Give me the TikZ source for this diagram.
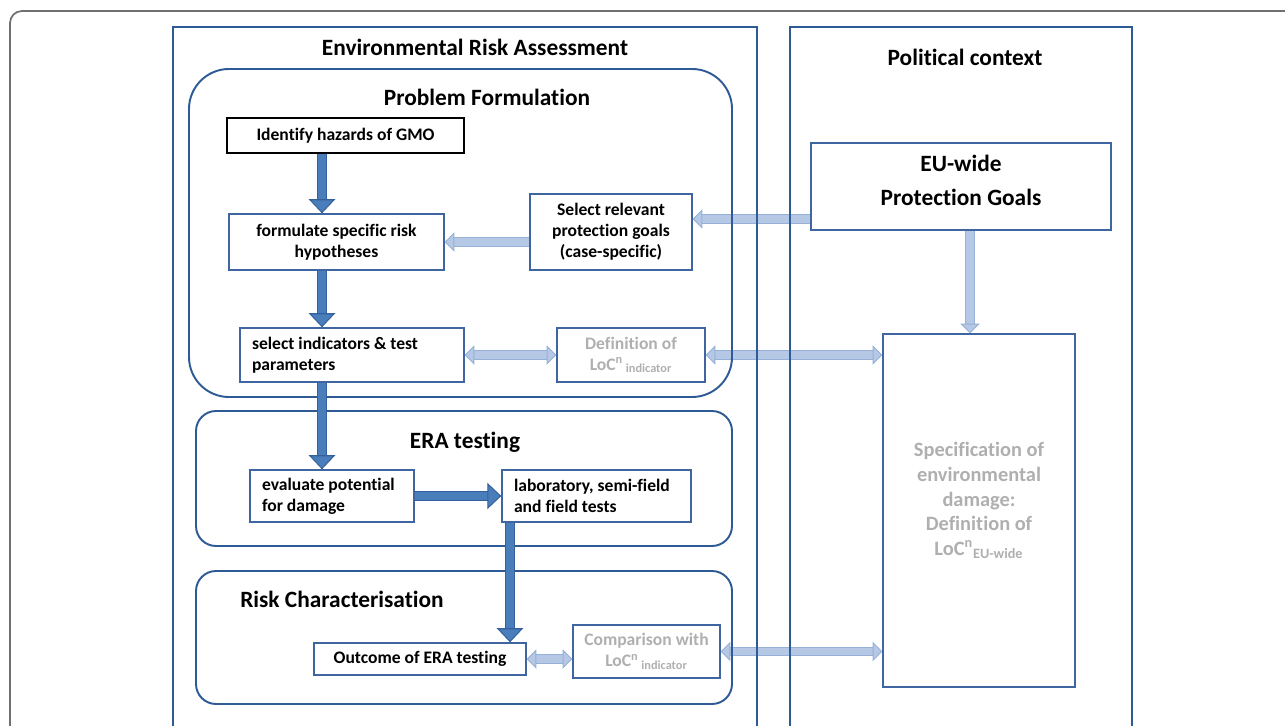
\documentclass[tikz,border=0pt]{standalone}
\usepackage{fontspec}
\setmainfont{Carlito}[Ligatures=NoCommon]
\usetikzlibrary{positioning, arrows.meta, backgrounds}
\definecolor{eraframe}{HTML}{2E5B96}
\definecolor{erabox}{HTML}{3F66A0}
\definecolor{eradark}{HTML}{4A7EBB}
\definecolor{eradarkedge}{HTML}{35609E}
\definecolor{eralight}{HTML}{B5C8E5}
\definecolor{eralightedge}{HTML}{97B0D6}
\definecolor{eragray}{HTML}{AFAFAF}
\definecolor{eraouter}{HTML}{707070}

\tikzset{
  darktip/.tip={Triangle[length=8pt, width=15pt, fill=eradark, color=eradarkedge, line width=0.6pt]},
  lighttip/.tip={Triangle[length=5.5pt, width=11pt, fill=eralight, color=eralightedge, line width=0.5pt]},
  stepbox/.style={draw=erabox, line width=0.8pt, inner sep=0pt, align=center,
    font=\bfseries\fontsize{10}{12}\selectfont},
  leftbox/.style={stepbox, align=flush left, inner xsep=0.24cm},
  greybox/.style={stepbox, text=eragray},
  greytext/.style={text=eragray, align=center, font=\bfseries\fontsize{11.6}{14}\selectfont},
  paneltitle/.style={font=\bfseries\fontsize{13.3}{15}\selectfont},
  panel/.style={draw=eraframe, line width=1.1pt},
  darkarrow/.style={-darktip, double=eradark, double distance=5pt, draw=eradarkedge, line width=0.6pt},
  lightarrow/.style={double=eralight, double distance=4.2pt, draw=eralightedge, line width=0.5pt}
}

\begin{document}
\begin{tikzpicture}[x=0.02cm, y=-0.02cm]
      \useasboundingbox (0,0) rectangle (1285,726);
      % outer frame and the two panels
      \draw[eraouter, line width=1pt, rounded corners=0.24cm] (10,760) -- (10,11) -- (1320,11);
      \draw[panel] (173,760) -- (173,27) -- (757,27) -- (757,760);
      \draw[panel] (790,760) -- (790,27) -- (1132,27) -- (1132,760);
      \node[paneltitle] (eratitle) at (475,47) {Environmental Risk Assessment};
      \node[paneltitle] (poltitle) at (965,57) {Political context};
      % phases of the assessment
      \draw[panel, rounded corners=0.8cm] (189,69) rectangle (732,397);
      \draw[panel, rounded corners=0.4cm] (196,411) rectangle (732,546);
      \draw[panel, rounded corners=0.4cm] (196,571) rectangle (732,704);
      \node[paneltitle] (pftitle) at (487,97) {Problem Formulation};
      \node[paneltitle] (testtitle) at (465,442) {ERA testing};
      \node[paneltitle] (rctitle) at (342,599) {Risk Characterisation};
      % steps
      \node[stepbox, draw=black, minimum width=4.74cm, minimum height=0.70cm] (hazards) at (345.5,135.5) {Identify hazards of GMO};
      \node[stepbox, minimum width=4.30cm, minimum height=1.12cm] (hypo) at (336.5,242) {formulate specific risk\\hypotheses};
      \node[stepbox, minimum width=3.24cm, minimum height=1.52cm] (goalsel) at (611,232) {Select relevant\\protection goals\\(case-specific)};
      \node[leftbox, text width=4.00cm, minimum height=1.08cm] (indic) at (352,355) {select indicators \& test\\parameters};
      \node[greybox, minimum width=2.96cm, minimum height=1.08cm] (locind) at (631,355) {Definition of\\LoC\textsuperscript{n}\textsubscript{ indicator}};
      \node[leftbox, text width=2.80cm, minimum height=1.04cm] (evalpot) at (332,496) {evaluate potential\\for damage};
      \node[leftbox, text width=3.30cm, minimum height=1.04cm] (labtest) at (596.5,496) {laboratory, semi-field\\and field tests};
      \node[stepbox, minimum width=4.24cm, minimum height=0.64cm] (outcome) at (420,659) {Outcome of ERA testing};
      \node[greybox, minimum width=2.94cm, minimum height=1.06cm] (compare) at (646.5,651.5) {Comparison with\\LoC\textsuperscript{n}\textsubscript{ indicator}};
      \node[stepbox, minimum width=6.0cm, minimum height=1.74cm,
            label={[yshift=0.12cm, align=center, font=\bfseries\fontsize{13.3}{19.5}\selectfont]center:{EU-wide\\Protection Goals}}] (eugoals) at (961,186.5) {};
      \node[stepbox, minimum width=3.84cm, minimum height=7.06cm,
            label={[yshift=0.2cm, greytext]center:{Specification of\\environmental\\damage:\\Definition of\\LoC\textsuperscript{n}\textsubscript{EU-wide}}}] (damage) at (979,510.5) {};
      % helper lines for the arrows
      \coordinate (spine) at (322,0);
      \coordinate (labcol) at (510,0);
      \coordinate (eucol) at (970,0);
      \coordinate (goalrow) at (0,219);
      % main flow
      \draw[darkarrow] (hazards.south -| spine) -- (hypo.north -| spine);
      \draw[darkarrow] (hypo.south -| spine) -- (indic.north -| spine);
      \draw[darkarrow] (indic.south -| spine) -- (evalpot.north -| spine);
      \draw[darkarrow] (evalpot.east) -- (labtest.west);
      \draw[darkarrow] (labtest.south -| labcol) -- (outcome.north -| labcol);
      % links to the political context
      \begin{scope}[on background layer]
        \draw[lightarrow, -lighttip] (eugoals.west |- goalrow) -- (goalsel.east |- goalrow);
        \draw[lightarrow, -lighttip] (goalsel.west |- hypo.east) -- (hypo.east);
        \draw[lightarrow, lighttip-lighttip] (indic.east) -- (locind.west);
        \draw[lightarrow, lighttip-lighttip] (locind.east) -- (damage.west |- locind.east);
        \draw[lightarrow, -lighttip] (eugoals.south -| eucol) -- (damage.north -| eucol);
        \draw[lightarrow, lighttip-lighttip] (outcome.east) -- (compare.west |- outcome.east);
        \draw[lightarrow, lighttip-lighttip] (compare.east) -- (damage.west |- compare.east);
      \end{scope}
    \end{tikzpicture}
\end{document}
